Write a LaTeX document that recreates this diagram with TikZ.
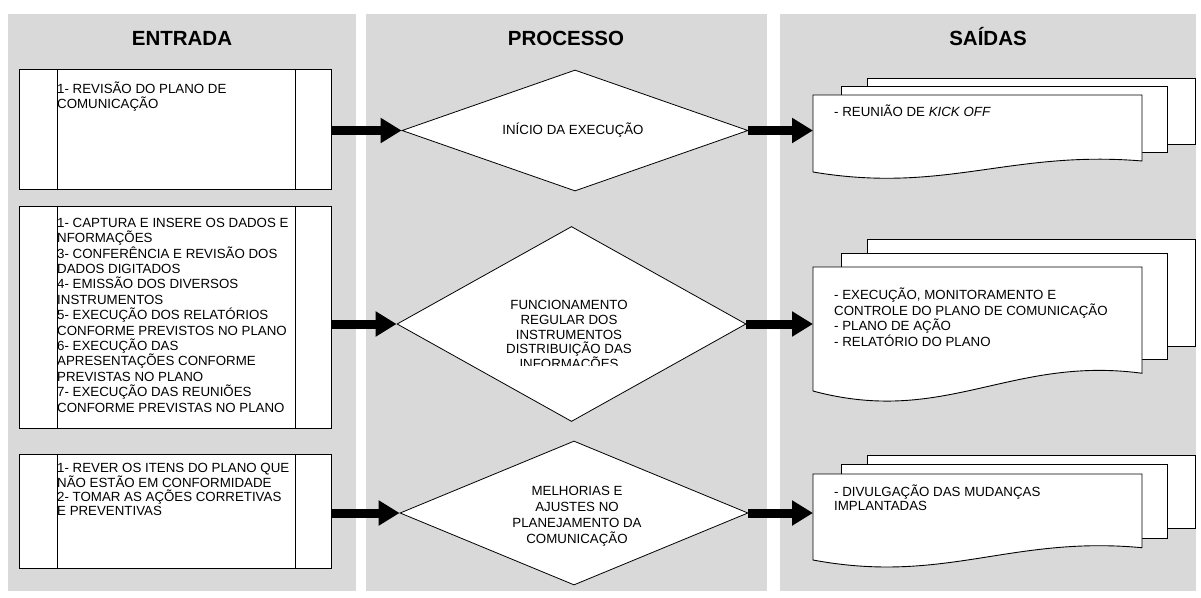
\documentclass[tikz,border=0pt]{standalone}
\usepackage{fontspec}
\setmainfont{Liberation Sans}
\usetikzlibrary{shapes.geometric,arrows.meta}

\definecolor{lanegray}{RGB}{217,217,217}

% A stack of three output sheets; the front one has a wavy lower edge.
% #1 name of the front sheet, #2 its top edge, #3 its height at the left side
\newcommand\outstack[3]{%
  \pgfmathsetmacro\oT{#2}%
  \pgfmathsetmacro\oH{#3}%
  \pgfmathsetmacro\oS{0.11*\oH}%
  \pgfmathsetmacro\oA{0.143*\oH}%
  \pgfmathsetmacro\oC{0.286*\oH}%
  \path[sheet] (867,\oT-2*\oS) rectangle (1195,\oT+\oH-\oA-2*\oS);
  \path[sheet] (841,\oT-\oS) rectangle (1167,\oT+\oH-\oA-\oS);
  \path[sheet] (813,\oT) -- (1142,\oT) -- (1142,\oT+\oH-\oA)
     .. controls (1010.4,\oT+\oH-\oC) and (944.6,\oT+\oH+\oC) .. (813,\oT+\oH) -- cycle;
  \node[inner sep=0pt, minimum width=329pt, minimum height=\oH pt, anchor=north west] (#1) at (813,\oT) {};
}

\begin{document}
\begin{tikzpicture}[x=1pt,y=-1pt,
  head/.style={font=\fontsize{20.5}{24}\selectfont\bfseries, inner sep=0pt, anchor=base},
  inbox/.style={draw=black, line width=0.9pt, fill=white, anchor=north west,
                minimum width=312pt, inner sep=0pt},
  body/.style={inner sep=0pt, align=left, anchor=north west},
  mid/.style={inner sep=0pt, align=center, anchor=north},
  dec/.style={diamond, draw=black, line width=0.8pt, fill=white, inner sep=0pt},
  flow/.style={line width=9pt, -{Triangle[length=21pt,width=24pt]}},
  sheet/.style={draw=black, line width=0.9pt, fill=white}]
\useasboundingbox (0,0) rectangle (1201,597);

% lanes
\fill[lanegray] (8,14) rectangle (356,591);
\fill[lanegray] (366,14) rectangle (767,591);
\fill[lanegray] (780,14) rectangle (1196,591);

\node[head] (hin)  at (182,45) {ENTRADA};
\node[head] (hpro) at (566,45) {PROCESSO};
\node[head] (hout) at (988,45) {SAÍDAS};

% input boxes
\node[inbox, minimum height=120pt] (in1) at (19,69) {};
\node[inbox, minimum height=222pt] (in2) at (19,206) {};
\node[inbox, minimum height=114pt] (in3) at (19,454) {};
\foreach \b in {in1,in2,in3}{
  \draw[line width=0.8pt] ([xshift=38pt]\b.north west) -- ([xshift=38pt]\b.south west);
  \draw[line width=0.8pt] ([xshift=-37pt]\b.north east) -- ([xshift=-37pt]\b.south east);
}

\node[body, font=\fontsize{13.3}{14.3}\selectfont] (in1t) at (57,80.5)
  {\rule{0pt}{13pt}1- REVISÃO DO PLANO DE\\COMUNICAÇÃO};
\node[body, font=\fontsize{13.3}{15.4}\selectfont] (in2t) at (57,214)
  {\rule{0pt}{13pt}1- CAPTURA E INSERE OS DADOS E\\NFORMAÇÕES\\3- CONFERÊNCIA E REVISÃO DOS\\
   DADOS DIGITADOS\\4- EMISSÃO DOS DIVERSOS\\INSTRUMENTOS\\5- EXECUÇÃO DOS RELATÓRIOS\\
   CONFORME PREVISTOS NO PLANO\\6- EXECUÇÃO DAS\\APRESENTAÇÕES CONFORME\\
   PREVISTAS NO PLANO\\7- EXECUÇÃO DAS REUNIÕES\\CONFORME PREVISTAS NO PLANO};
\node[body, font=\fontsize{13.3}{13.9}\selectfont] (in3t) at (57,459.5)
  {\rule{0pt}{13pt}1- REVER OS ITENS DO PLANO QUE\\NÃO ESTÃO EM CONFORMIDADE\\
   2- TOMAR AS AÇÕES CORRETIVAS\\E PREVENTIVAS};

% process diamonds
\node[dec, minimum width=346pt, minimum height=121pt] (d1) at (575,130.5) {};
\node[dec, minimum width=349pt, minimum height=195pt] (d2) at (571.5,324) {};
\node[dec, minimum width=348pt, minimum height=144pt] (d3) at (574,513) {};

\node[inner sep=0pt, anchor=base, font=\fontsize{13.3}{14.3}\selectfont] (d1t) at (573,134.5)
  {INÍCIO DA EXECUÇÃO};
\begin{scope}
  \clip (460,280) rectangle (680,365.5);
  \node[mid, font=\fontsize{13.3}{14.7}\selectfont] (d2t) at (569,296.5)
    {\rule{0pt}{13pt}FUNCIONAMENTO\\REGULAR DOS\\INSTRUMENTOS\\DISTRIBUIÇÃO DAS\\INFORMAÇÕES};
\end{scope}
\node[mid, font=\fontsize{13.3}{15.8}\selectfont] (d3t) at (577,482.5)
  {\rule{0pt}{13pt}MELHORIAS E\\AJUSTES NO\\PLANEJAMENTO DA\\COMUNICAÇÃO};

% output stacks
\outstack{o1}{95}{77}
\outstack{o2}{267}{124}
\outstack{o3}{474}{86}

\node[body, font=\fontsize{13.3}{14.3}\selectfont] (o1t) at (834,103)
  {\rule{0pt}{13pt}- REUNIÃO DE \textit{KICK OFF}};
\node[body, font=\fontsize{13.3}{14.3}\selectfont] (o2t) at (834,286.5)
  {\rule{0pt}{13pt}- EXECUÇÃO, MONITORAMENTO E\\CONTROLE DO PLANO DE COMUNICAÇÃO\\
   - PLANO DE AÇÃO\\- RELATÓRIO DO PLANO};
\node[body, font=\fontsize{13.3}{14.3}\selectfont] (o3t) at (834,483)
  {\rule{0pt}{13pt}- DIVULGAÇÃO DAS MUDANÇAS\\IMPLANTADAS};

% flow arrows
\draw[flow] (in1.east |- d1.west) -- (d1.west);
\draw[flow] (in2.east |- d2.west) -- (d2.west);
\draw[flow] (in3.east |- d3.west) -- (d3.west);
\draw[flow] (d1.east) -- (d1.east -| o1.west);
\draw[flow] (d2.east) -- (d2.east -| o2.west);
\draw[flow] (d3.east) -- (d3.east -| o3.west);
\end{tikzpicture}
\end{document}
